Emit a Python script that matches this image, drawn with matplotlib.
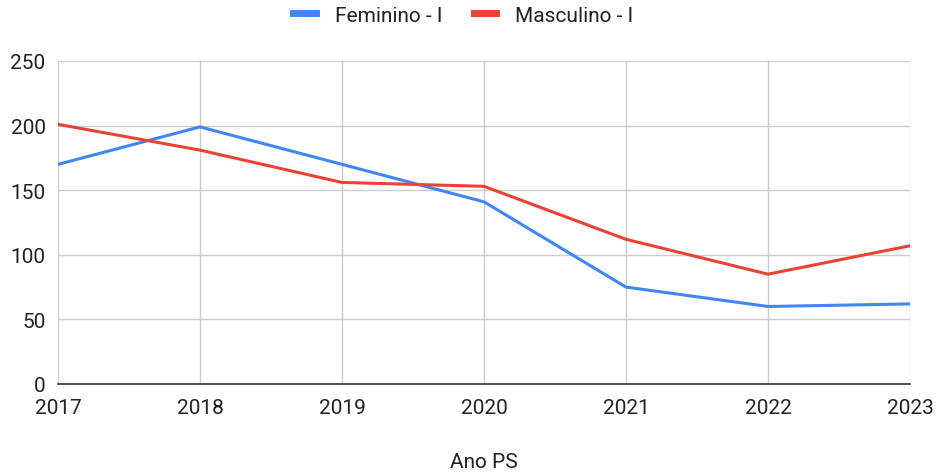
import matplotlib
matplotlib.use("Agg")
import matplotlib.pyplot as plt
from matplotlib.lines import Line2D

plt.rcParams['font.family'] = ['Roboto', 'DejaVu Sans']

years = [2017, 2018, 2019, 2020, 2021, 2022, 2023]
feminino = [170, 199, 170, 141, 75, 60, 62]
masculino = [201, 181, 156, 153, 112, 85, 107]
y_ticks = [0, 50, 100, 150, 200, 250]

blue = '#4285F4'
red = '#EA4335'
fs = 15

fig = plt.figure(figsize=(9.36, 4.77), dpi=100)
ax = fig.add_axes([58 / 936, 1 - 385 / 477, (910 - 58) / 936, (385 - 62) / 477])

ax.plot(years, feminino, color=blue, lw=2.2, label='Feminino - I', solid_joinstyle='round')
ax.plot(years, masculino, color=red, lw=2.2, label='Masculino - I', solid_joinstyle='round')

ax.set_xlim(2017, 2023)
ax.set_ylim(0, 250)
ax.set_xticks(years)
ax.set_xticklabels([str(y) for y in years])
ax.set_yticks(y_ticks)

ax.grid(True, color='#cccccc', lw=1)
ax.set_axisbelow(True)
for s in ['top', 'right', 'left']:
    ax.spines[s].set_visible(False)
ax.spines['bottom'].set_color('#333333')
ax.spines['bottom'].set_linewidth(1.2)
ax.spines['bottom'].set_zorder(3)

ax.tick_params(axis='both', length=0, labelsize=fs, colors='#222222')
ax.tick_params(axis='x', pad=10)
ax.tick_params(axis='y', pad=9)

ax.set_xlabel('Ano PS', fontsize=fs, color='#222222', labelpad=25)

handles = [Line2D([], [], color=blue, lw=5), Line2D([], [], color=red, lw=5)]
fig.legend(handles, ['Feminino - I', 'Masculino - I'], loc='center', bbox_to_anchor=(0.495, 1 - 16 / 477),
           ncol=2, frameon=False, fontsize=fs, handlelength=1.1, columnspacing=1.5,
           handletextpad=0.9, labelcolor='#222222')

fig.savefig('out.png', dpi=100)
